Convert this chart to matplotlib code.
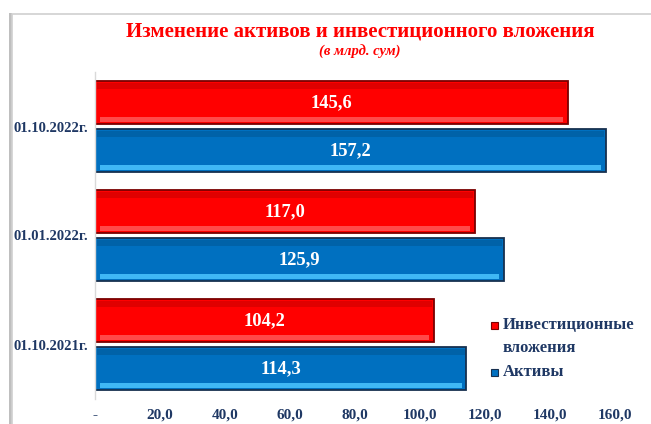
import matplotlib
matplotlib.use("Agg")
import matplotlib.pyplot as plt
from matplotlib.patches import Rectangle
import numpy as np

categories = ["01.10.2021г.", "01.01.2022г.", "01.10.2022г."]
invest = [104.2, 117.0, 145.6]
assets = [114.3, 125.9, 157.2]
xticks = [0, 20, 40, 60, 80, 100, 120, 140, 160]
xtick_labels = ["-", "20,0", "40,0", "60,0", "80,0", "100,0", "120,0", "140,0", "160,0"]
title = "Изменение активов и инвестиционного вложения"
subtitle = "(в млрд. сум)"
legend_labels = ["Инвестиционные\nвложения", "Активы"]
legend_colors = [("#FF0000", "#7A0000"), ("#0070C0", "#17304F")]

navy = "#1F3864"
serif = ["Liberation Serif", "DejaVu Serif"]

fig = plt.figure(figsize=(6.51, 4.24), dpi=100)
fig.patch.set_facecolor("white")

# outer frame with shadow
W, H = 651, 424
fig.add_artist(Rectangle((9 / W, -0.01), 2.5 / W, (H - 13) / H + 0.01, transform=fig.transFigure,
                         facecolor="#BFBFBF", edgecolor="none"))
fig.add_artist(Rectangle((11.5 / W, -0.01), 1.2, (H - 14) / H + 0.01, transform=fig.transFigure,
                         facecolor="none", edgecolor="#D0D0D0", lw=1.2))

ax = fig.add_axes([95 / W, 25 / H, 3.25 * 165 / W, 327 / H])
ax.set_xlim(0, 165)
ax.set_ylim(-0.5, 2.5)

y = np.arange(len(categories))
h = 0.394
off = 0.22


def fancy_bars(ycent, vals, main, dark, light, topband):
    ax.barh(ycent, vals, height=h, color=main, edgecolor=dark, lw=1.3, zorder=2)
    # top darker band
    ax.barh(ycent + h / 2 - 0.045, [v - 1.2 for v in vals], left=0.6, height=0.05,
            color=topband, edgecolor="none", zorder=3)
    # bottom light highlight
    ax.barh(ycent - h / 2 + 0.04, [v - 3.0 for v in vals], left=1.5, height=0.04,
            color=light, edgecolor="none", zorder=3)


fancy_bars(y + off, invest, "#FF0000", "#7A0000", "#FF4A4A", "#E00000")
fancy_bars(y - off, assets, "#0070C0", "#17304F", "#3FB8F5", "#0062A8")

for yi, v in zip(y + off, invest):
    ax.text(v / 2, yi, f"{v:.1f}".replace(".", ","), ha="center", va="center",
            color="white", fontsize=13.3, fontweight="bold", family=serif, zorder=4)
for yi, v in zip(y - off, assets):
    ax.text(v / 2, yi, f"{v:.1f}".replace(".", ","), ha="center", va="center",
            color="white", fontsize=13.3, fontweight="bold", family=serif, zorder=4)

ax.set_xticks(xticks)
ax.set_xticklabels(xtick_labels, family=serif, fontweight="bold", fontsize=11, color=navy)
ax.set_yticks(y)
ax.set_yticklabels(categories, family=serif, fontweight="bold", fontsize=10.5, color=navy)
ax.tick_params(axis="x", length=0, pad=7)
ax.tick_params(axis="y", length=0, pad=5)
for s in ["top", "right", "bottom"]:
    ax.spines[s].set_visible(False)
ax.spines["left"].set_color("#D9D9D9")
ax.spines["left"].set_linewidth(1)

fig.text(360 / W, 1 - 31 / H, title, ha="center", va="center", color="#FF0000",
         fontsize=15, fontweight="bold", family=serif)
fig.text(360 / W, 1 - 52 / H, subtitle, ha="center", va="center", color="#FF0000",
         fontsize=10.5, fontweight="bold", style="italic", family=serif)

# legend (marker aligned with first text line, as in the original)
leg_y = [325, 372]
for (fc, ec), lab, ly in zip(legend_colors, legend_labels, leg_y):
    fig.add_artist(Rectangle(((494 - 3.5) / W, 1 - (ly + 3.5) / H), 7 / W, 7 / H,
                             transform=fig.transFigure, facecolor=fc, edgecolor=ec, lw=0.8))
    fig.text(503 / W, 1 - (ly - 7.5) / H, lab, ha="left", va="top", color=navy,
             fontsize=12, fontweight="bold", family=serif, linespacing=1.5)

fig.savefig("out.png", dpi=100, facecolor="white")
